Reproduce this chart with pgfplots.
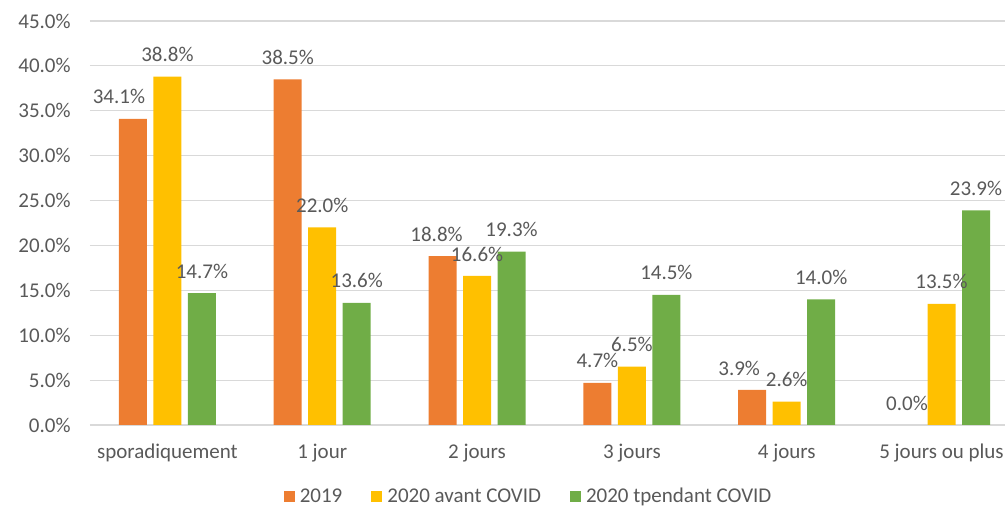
\documentclass[border=0pt]{standalone}
\usepackage{fontspec}
\setmainfont{Carlito}
\usepackage{pgfplots}
\pgfplotsset{compat=1.18}

\definecolor{c19}{HTML}{ED7D31}
\definecolor{cavant}{HTML}{FFC000}
\definecolor{cpend}{HTML}{70AD47}
\definecolor{txtgrey}{HTML}{595959}
\definecolor{gridgrey}{HTML}{D9D9D9}

% x: category index, y: share in %, dx: label nudge (pt)
\pgfplotstableread{
x y dx
0 34.1 -7
1 38.5 0
2 18.8 -3
3 4.7 0
4 3.9 -6.5
}\tabA
% the 0.0 bar of 2019 has no height: only its label is drawn
\pgfplotstableread{
x y dx
5 0.0 0
}\tabAzero
\pgfplotstableread{
x y dx
0 38.8 0
1 22.0 0
2 16.6 0
3 6.5 0
4 2.6 0
5 13.5 0
}\tabB
\pgfplotstableread{
x y dx
0 14.7 0
1 13.6 0
2 19.3 0
3 14.5 0
4 14.0 0
5 23.9 0
}\tabC

\begin{document}
\fontsize{10.5}{12.6}\selectfont
\begin{tikzpicture}
\begin{axis}[
  name=ax,
  scale only axis,
  width=457.5pt, height=202pt,
  ybar, bar width=14pt,
  xmin=-0.5, xmax=5.41,
  ymin=0, ymax=45,
  ytick={0,5,...,45},
  xtick={0,1,2,3,4,5},
  xticklabels={sporadiquement,1 jour,2 jours,3 jours,4 jours,5 jours ou plus},
  /pgf/number format/assume math mode=true,
  yticklabel={\pgfmathprintnumber[fixed,fixed zerofill,precision=1]{\tick}\%},
  ymajorgrids,
  grid style={draw=gridgrey, line width=0.6pt},
  axis x line*=bottom,
  axis y line*=left,
  x axis line style={draw=gridgrey, line width=0.6pt, -},
  y axis line style={draw=none},
  major tick length=0pt,
  tick label style={font=\fontsize{10.5}{12.6}\selectfont, text=txtgrey},
  xticklabel style={yshift=-6pt},
  yticklabel style={xshift=-6pt},
  every axis plot/.append style={draw=none},
  visualization depends on={\thisrow{dx} \as \dx},
  nodes near coords={\pgfmathprintnumber[fixed,fixed zerofill,precision=1]{\pgfplotspointmeta}\%},
  every node near coord/.append style={anchor=center, yshift=11pt, xshift=\dx pt,
    font=\fontsize{10.5}{12.6}\selectfont, text=txtgrey},
  legend columns=3,
  legend style={draw=none, at={(0.481,-0.178)}, anchor=center,
    font=\fontsize{10.5}{12.6}\selectfont, text=txtgrey,
    /tikz/every even column/.append style={column sep=12pt},
    nodes={inner sep=2.5pt}},
  legend image code/.code={\fill[#1] (0pt,-2.75pt) rectangle (5.5pt,2.75pt);},
]
\addplot[fill=c19, bar shift=-17.25pt] table[x=x,y=y] {\tabA};
\addplot[fill=cavant, bar shift=0pt] table[x=x,y=y] {\tabB};
\addplot[fill=cpend, bar shift=17.25pt] table[x=x,y=y] {\tabC};
\addplot[forget plot, fill=none, draw=none, bar shift=-17.25pt] table[x=x,y=y] {\tabAzero};
\legend{2019,2020 avant COVID,2020 tpendant COVID}
\end{axis}
\pgfresetboundingbox
\path[use as bounding box] ([xshift=-45pt,yshift=-40.5pt]ax.south west) rectangle ([yshift=10.5pt]ax.north east);
\end{tikzpicture}
\end{document}
